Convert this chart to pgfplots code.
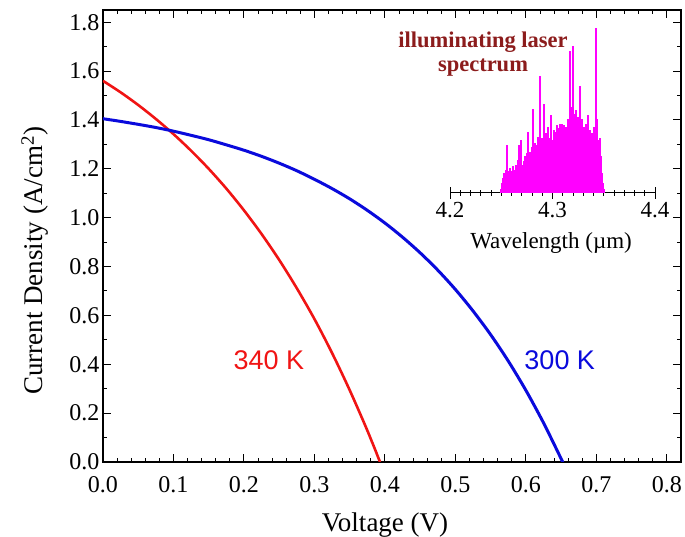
\documentclass[border=0pt]{standalone}
\usepackage{fontspec}
\setmainfont{Liberation Serif}
\newfontfamily\arialfont{Liberation Sans}
\usepackage{pgfplots}
\pgfplotsset{compat=1.18}
\definecolor{myred}{RGB}{240,20,20}
\definecolor{myblue}{RGB}{10,10,220}
\definecolor{insetred}{RGB}{140,28,28}
\definecolor{laser}{RGB}{255,0,255}
\begin{document}
\begin{tikzpicture}[x=1pt,y=1pt]
\useasboundingbox (-103pt,-75pt) rectangle (582pt,462pt);
\begin{axis}[
  name=main,
  at={(0pt,0pt)}, anchor=south west,
  width=578pt, height=452pt, scale only axis,
  xmin=0, xmax=0.82, ymin=0, ymax=1.85,
  xtick={0,0.1,0.2,0.3,0.4,0.5,0.6,0.7,0.8},
  ytick={0,0.2,0.4,0.6,0.8,1.0,1.2,1.4,1.6,1.8},
  minor x tick num=4, minor y tick num=1,
  tick align=inside, major tick length=8pt, minor tick length=4pt,
  every tick/.style={black, line width=1pt},
  axis line style={line width=1.3pt},
  /pgf/number format/assume math mode=true,
  /pgf/number format/.cd, fixed, fixed zerofill, precision=1, /pgfplots/.cd,
  tick label style={font=\fontsize{24}{24}\selectfont},
  xticklabel style={yshift=-11pt},
  xlabel={Voltage (V)},
  ylabel={Current Density (A/cm\textsuperscript{2})},
  label style={font=\fontsize{27}{27}\selectfont},
  xlabel style={at={(axis description cs:0.488,-0.153)}, anchor=base},
  ylabel style={at={(axis description cs:-0.1176,0.445)}, anchor=center},
]
\addplot[myred, line width=2.6pt, smooth] coordinates {
(0,1.56) (0.025,1.513) (0.05,1.461) (0.075,1.404) (0.1,1.342) (0.125,1.274)
(0.15,1.200) (0.175,1.119) (0.2,1.030) (0.225,0.933) (0.25,0.827) (0.275,0.711)
(0.3,0.585) (0.325,0.446) (0.35,0.294) (0.375,0.129) (0.393,0)
};
\addplot[myblue, line width=3pt, smooth] coordinates {
(0,1.405) (0.025,1.394) (0.05,1.382) (0.075,1.369) (0.1,1.354) (0.125,1.337)
(0.15,1.319) (0.175,1.298) (0.2,1.276) (0.225,1.251) (0.25,1.223) (0.275,1.192)
(0.3,1.157) (0.325,1.119) (0.35,1.077) (0.375,1.030) (0.4,0.978) (0.425,0.920)
(0.45,0.856) (0.475,0.785) (0.5,0.706) (0.525,0.618) (0.55,0.521) (0.575,0.413)
(0.6,0.293) (0.625,0.160) (0.65,0.013) (0.652,0)
};
\node[text=myred, font=\arialfont\fontsize{27}{27}\selectfont] at (axis cs:0.2355,0.415) {340 K};
\node[text=myblue, font=\arialfont\fontsize{27}{27}\selectfont] at (axis cs:0.648,0.415) {300 K};
\end{axis}
\begin{axis}[
  at={(347pt,269.3pt)}, anchor=south west,
  width=205pt, height=168pt, scale only axis,
  xmin=4.2, xmax=4.4, ymin=0, ymax=1.02,
  axis x line*=bottom, hide y axis,
  xtick={4.2,4.3,4.4}, minor x tick num=9,
  tick align=center, major tick length=12pt, minor tick length=6pt,
  every tick/.style={black, line width=1pt},
  axis line style={line width=1.3pt},
  /pgf/number format/assume math mode=true,
  /pgf/number format/.cd, fixed, fixed zerofill, precision=1, /pgfplots/.cd,
  tick label style={font=\fontsize{23}{23}\selectfont},
  xlabel={Wavelength (µm)},
  label style={font=\fontsize{23}{23}\selectfont},
  xlabel style={at={(axis description cs:0.493,-0.298)}, anchor=center},
  clip=false,
]
\addplot[ycomb, laser, line width=2pt] coordinates {
(4.250,0.02) (4.251,0.06) (4.252,0.09) (4.253,0.12) (4.254,0.10) (4.255,0.14)
(4.256,0.29) (4.257,0.13) (4.258,0.12) (4.259,0.15) (4.260,0.13) (4.261,0.16)
(4.262,0.12) (4.263,0.14) (4.264,0.17) (4.265,0.13) (4.266,0.20) (4.267,0.29)
(4.268,0.18) (4.269,0.32) (4.270,0.17) (4.271,0.15) (4.272,0.19) (4.273,0.22)
(4.274,0.18) (4.275,0.24) (4.276,0.37) (4.277,0.21) (4.278,0.25) (4.279,0.20)
(4.280,0.28) (4.281,0.51) (4.282,0.24) (4.283,0.30) (4.284,0.26) (4.285,0.29)
(4.286,0.34) (4.287,0.25) (4.288,0.71) (4.289,0.30) (4.290,0.33) (4.291,0.28)
(4.292,0.54) (4.293,0.31) (4.294,0.36) (4.295,0.29) (4.296,0.40) (4.297,0.33)
(4.298,0.30) (4.299,0.47) (4.300,0.32) (4.301,0.38) (4.302,0.30) (4.303,0.37)
(4.304,0.41) (4.305,0.33) (4.306,0.39) (4.307,0.42) (4.308,0.36) (4.309,0.42)
(4.310,0.35) (4.311,0.41) (4.312,0.38) (4.313,0.40) (4.314,0.34) (4.315,0.45)
(4.316,0.45) (4.317,0.86) (4.318,0.40) (4.319,0.52) (4.320,0.89) (4.321,0.48)
(4.322,0.42) (4.323,0.50) (4.324,0.38) (4.325,0.46) (4.326,0.42) (4.327,0.65)
(4.328,0.40) (4.329,0.45) (4.330,0.36) (4.331,0.40) (4.332,0.34) (4.333,0.42)
(4.334,0.36) (4.335,0.47) (4.336,0.34) (4.337,0.38) (4.338,0.32) (4.339,0.36)
(4.340,0.40) (4.341,0.33) (4.342,1.00) (4.343,0.45) (4.344,0.32) (4.345,0.30)
(4.346,0.33) (4.347,0.22) (4.348,0.12) (4.349,0.06) (4.350,0.02)
};
\end{axis}
\node[text=insetred, font=\bfseries\fontsize{22.5}{22.5}\selectfont] at (380pt,420pt) {illuminating laser};
\node[text=insetred, font=\bfseries\fontsize{22.5}{22.5}\selectfont] at (380pt,394pt) {spectrum};
\end{tikzpicture}
\end{document}
